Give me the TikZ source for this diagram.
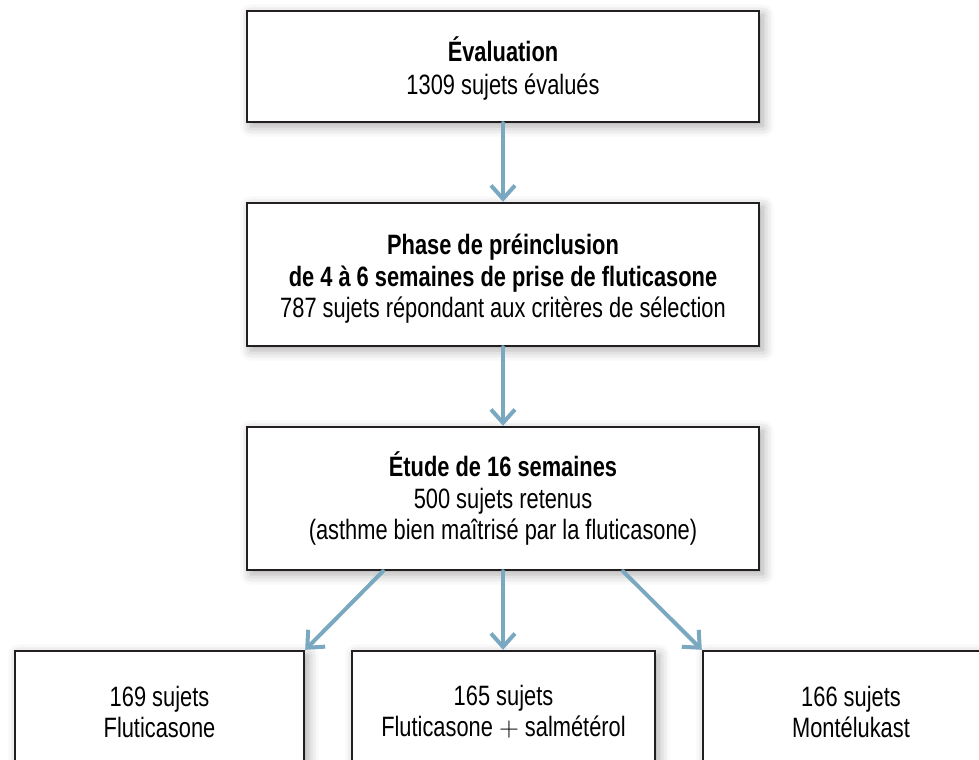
\documentclass[tikz,border=0pt]{standalone}
\usepackage{fontspec}
\setmainfont{Liberation Sans}[FakeStretch=0.78]
\usetikzlibrary{positioning,calc,arrows.meta,shadows.blur}
\definecolor{flowblue}{RGB}{122,168,192}
\definecolor{boxline}{RGB}{35,31,32}

\begin{document}
\begin{tikzpicture}[x=0.75pt,y=-0.75pt,
					stage/.style={
						draw=boxline, line width=1.8pt, fill=white,
						align=center, inner sep=0pt,
						font=\fontsize{21}{23.5}\selectfont,
						blur shadow={shadow xshift=3pt, shadow yshift=-3pt,
							shadow blur radius=8pt, shadow opacity=35}
					},
					flow/.style={
						draw=flowblue, line width=3pt, line cap=round,
						-{Straight Barb[length=10pt,width=18pt]}
					}
					]
					\useasboundingbox (0,0) rectangle (979,760);
					\clip (0,0) rectangle (979,760);
					% étapes principales
					\node[stage, minimum width=384pt, minimum height=83.25pt] (eval) at (503,66.5)
						{\rule{0pt}{22pt}\textbf{Évaluation}\\[1pt]1309 sujets évalués};
					\node[stage, minimum width=384pt, minimum height=107.25pt] (runin) at (503,274.5)
						{\rule{0pt}{22pt}\textbf{Phase de préinclusion}\\\textbf{de 4 à 6 semaines de prise de fluticasone}\\787 sujets répondant aux critères de sélection};
					\node[stage, minimum width=384pt, minimum height=107.25pt] (study) at (503,498.5)
						{\textbf{Étude de 16 semaines}\\500 sujets retenus\\(asthme bien maîtrisé par la fluticasone)};
					% trois groupes
					\node[stage, minimum width=216.75pt, minimum height=91.5pt] (armflu) at (159.5,712)
						{169 sujets\\Fluticasone};
					\node[stage, minimum width=227.25pt, minimum height=91.5pt] (armsal) at (503.5,712)
						{165 sujets\\Fluticasone $+$ salmétérol};
					\node[stage, minimum width=222pt, minimum height=91.5pt] (armmon) at (851,712)
						{166 sujets\\Montélukast};
					% flèches
					\draw[flow] (eval.south) -- (runin.north);
					\draw[flow] (runin.south) -- (study.north);
					\draw[flow] ($(study.south)+(-120,0)$) -- (armflu.north east);
					\draw[flow] (study.south) -- (study.south |- armsal.north);
					\draw[flow] ($(study.south)+(120,0)$) -- (armmon.north west);
				\end{tikzpicture}
\end{document}
